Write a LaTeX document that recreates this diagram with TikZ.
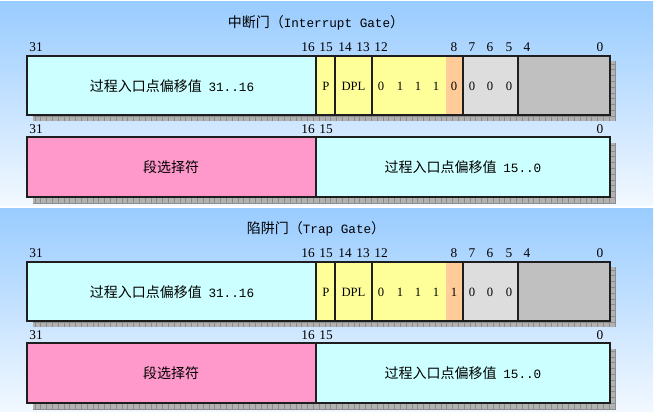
\documentclass[tikz,border=0pt]{standalone}
\usepackage{fontspec}
\setmainfont{Liberation Serif}
\newfontfamily\cjk{Noto Sans CJK SC}
\newfontfamily\latmono{Liberation Mono}

\tikzset{every picture/.style={line width=0.75pt}}
\tikzset{
  panelbg/.style={top color={rgb,255:red,153;green,204;blue,255}, bottom color={rgb,255:red,242;green,248;blue,255}},
  field/.style={draw={rgb,255:red,30;green,30;blue,30}, line width=1.1pt},
  shadowfill/.style={fill={rgb,255:red,178;green,178;blue,178}},
  shadowgrid/.style={draw={rgb,255:red,140;green,140;blue,140}, line width=0.4pt},
  bitno/.style={font=\fontsize{10}{11}\selectfont, inner sep=0pt},
  bitval/.style={font=\fontsize{9.5}{11}\selectfont, inner sep=0pt},
  cntext/.style={font=\cjk\fontsize{10.5}{12}\selectfont, inner sep=0pt}
}

\begin{document}
\begin{tikzpicture}[x=0.75pt,y=0.75pt,yscale=-1]
\useasboundingbox (0,0) rectangle (659,413);

\foreach \dy/\gname/\gcn/\gen/\tbit in {0/int/中断门/Interrupt Gate/0, 206/trap/陷阱门/Trap Gate/1}{
\begin{scope}[shift={(0,\dy)}]
%Shape: Rectangle (panel background)
\shade [panelbg] (0,2) rectangle (653,205);

% Text Node (title)
\node [cntext] (\gname-title) at (316,23) {\gcn（{\latmono\fontsize{9.5}{12}\selectfont\gen}）};

% bit numbers, first word
\foreach \b/\xb in {31/36, 16/308, 15/326, 14/345, 13/363, 12/381, 8/454, 7/472, 6/490, 5/509, 4/527, 0/600}
  \node [bitno] (\gname-hi\b) at (\xb,47) {\b};

%Shape: Rectangle (shadow, first word)
\fill [shadowfill] (33,61) rectangle (616,121);
\draw [shadowgrid, step=5.8] (33,61) grid (616,121);

%Shape: Rectangle (offset 31..16)
\draw [field, fill={rgb,255:red,204;green,255;blue,255}] (27,56) rectangle (316,115);
%Shape: Rectangle (P)
\draw [field, fill={rgb,255:red,255;green,255;blue,153}] (316,56) rectangle (335,115);
%Shape: Rectangle (DPL)
\draw [field, fill={rgb,255:red,255;green,255;blue,153}] (335,56) rectangle (372,115);
%Shape: Rectangle (type)
\fill [fill={rgb,255:red,255;green,255;blue,153}] (372,56) rectangle (446,115);
\fill [fill={rgb,255:red,255;green,204;blue,153}] (446,56) rectangle (463,115);
\draw [field] (372,56) rectangle (463,115);
%Shape: Rectangle (bits 7..5)
\draw [field, fill={rgb,255:red,221;green,221;blue,221}] (463,56) rectangle (518,115);
%Shape: Rectangle (bits 4..0)
\draw [field, fill={rgb,255:red,192;green,192;blue,192}] (518,56) rectangle (610,115);

% Text Node
\node [cntext] (\gname-offhi) at (172,86) {过程入口点偏移值\hspace{5pt}{\latmono\fontsize{9.5}{12}\selectfont 31..16}};
\node [bitval] (\gname-p) at (326,86) {P};
\node [bitval] (\gname-dpl) at (353.5,86) {DPL};
\foreach \v/\xb in {0/381, 1/400, 1/418, 1/436, \tbit/454, 0/472, 0/490, 0/509}
  \node [bitval] (\gname-v\xb) at (\xb,86) {\v};

% bit numbers, second word
\foreach \b/\xb in {31/36, 16/308, 15/326, 0/600}
  \node [bitno] (\gname-lo\b) at (\xb,129) {\b};

%Shape: Rectangle (shadow, second word)
\fill [shadowfill] (33,143) rectangle (616,203);
\draw [shadowgrid, step=5.8] (33,143) grid (616,203);

%Shape: Rectangle (selector)
\draw [field, fill={rgb,255:red,255;green,153;blue,204}] (27,137) rectangle (316,197);
%Shape: Rectangle (offset 15..0)
\draw [field, fill={rgb,255:red,204;green,255;blue,255}] (316,137) rectangle (610,197);

% Text Node
\node [cntext] (\gname-sel) at (171,167) {段选择符};
\node [cntext] (\gname-offlo) at (463,167) {过程入口点偏移值\hspace{5pt}{\latmono\fontsize{9.5}{12}\selectfont 15..0}};
\end{scope}
}
\end{tikzpicture}
\end{document}
